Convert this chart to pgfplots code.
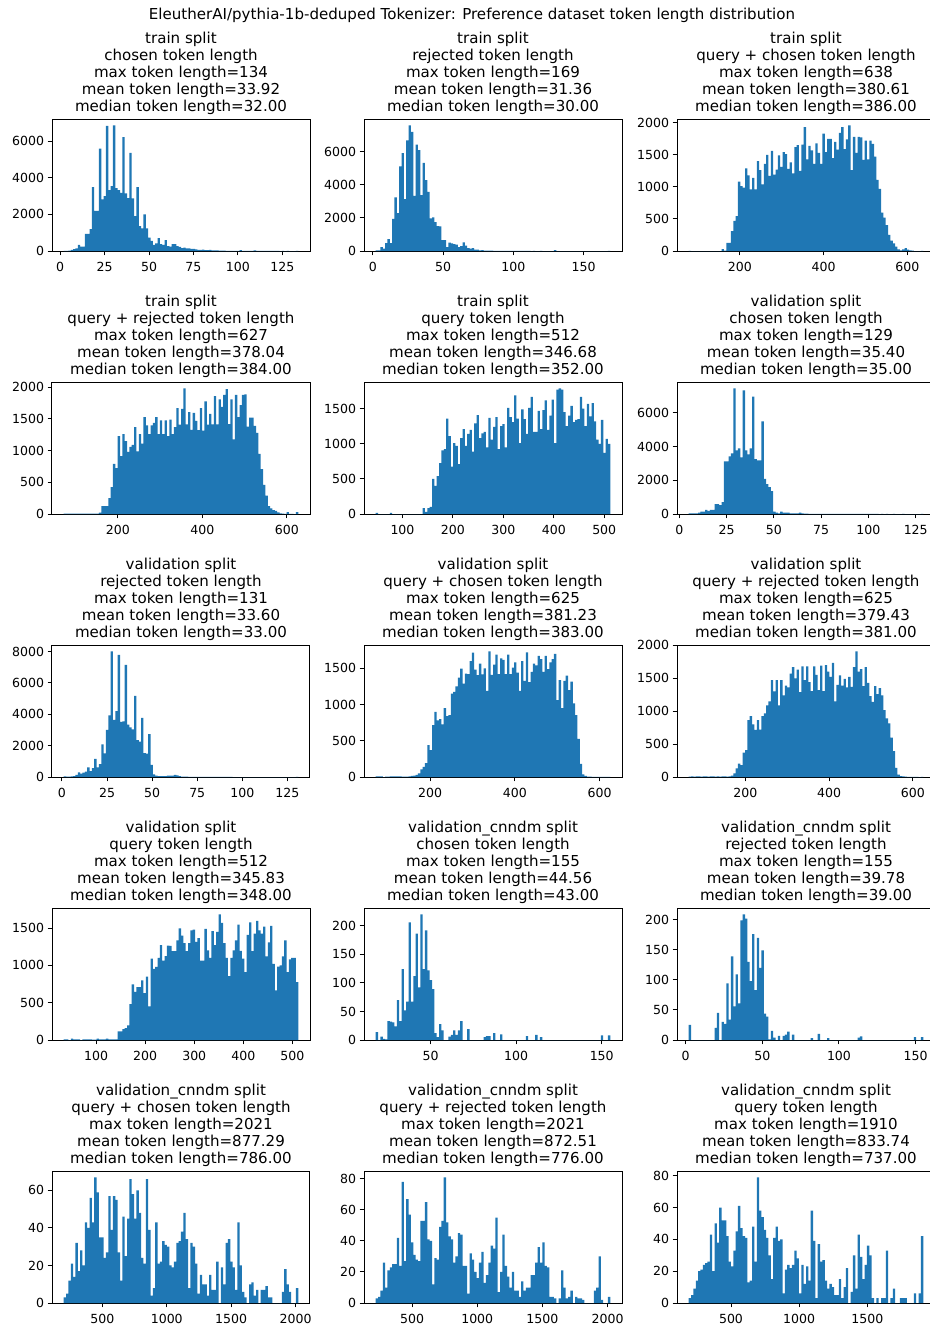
\documentclass[border=0pt]{standalone}
\usepackage{fontspec}
\setmainfont{DejaVu Sans}
\usepackage{pgfplots}
\usepackage{pgfplotstable}
\pgfplotsset{compat=1.18}
\definecolor{barblue}{HTML}{1F77B4}

% Histogram counts, 100 bins each (plus a closing row for the last bin edge)
\pgfplotstableread[row sep=\\]{n\\
5\\10\\20\\60\\100\\150\\330\\240\\240\\930\\
930\\1200\\3490\\2200\\2200\\5600\\2820\\3000\\6840\\3330\\
3550\\6870\\3440\\3330\\3180\\6220\\3150\\2890\\5360\\2870\\
1910\\3490\\1360\\1240\\2000\\1240\\730\\550\\330\\420\\
710\\380\\330\\600\\270\\240\\380\\380\\270\\220\\
160\\180\\150\\150\\110\\110\\90\\60\\60\\70\\
50\\50\\60\\40\\30\\30\\25\\20\\15\\10\\
12\\10\\8\\10\\6\\50\\5\\4\\5\\3\\
4\\40\\3\\2\\3\\2\\2\\1\\2\\1\\
1\\1\\0\\1\\0\\1\\0\\0\\0\\1\\0\\}\trainChosen

\pgfplotstableread[row sep=\\]{n\\
40\\40\\240\\140\\480\\720\\480\\1950\\3240\\2300\\
5130\\5920\\3140\\6700\\7610\\7210\\3340\\6440\\6100\\3380\\
5340\\4290\\3580\\1970\\2030\\1750\\1510\\1490\\660\\660\\
240\\500\\460\\420\\380\\240\\300\\520\\320\\180\\
140\\180\\80\\80\\40\\60\\20\\20\\20\\20\\
10\\8\\10\\6\\5\\4\\4\\3\\3\\2\\
2\\2\\1\\1\\1\\1\\0\\1\\0\\0\\
1\\0\\0\\0\\0\\0\\60\\0\\0\\0\\
0\\0\\0\\0\\0\\0\\0\\0\\0\\0\\
0\\0\\0\\0\\0\\0\\0\\0\\0\\1\\0\\}\trainRejected

\pgfplotstableread[row sep=\\]{n\\
2\\0\\0\\0\\0\\0\\0\\0\\0\\0\\
0\\0\\0\\0\\30\\5\\125\\125\\310\\470\\
545\\1080\\1010\\990\\1290\\1180\\960\\1140\\960\\1400\\
1260\\1040\\1360\\1500\\1170\\1560\\1190\\1270\\1490\\1310\\
1540\\1510\\1280\\1380\\1210\\1620\\1650\\1250\\1660\\1930\\
1430\\1640\\1570\\1360\\1680\\1530\\1360\\1830\\1540\\1750\\
1750\\1450\\1700\\1580\\1840\\1930\\1590\\1740\\1960\\1260\\
1780\\1530\\1780\\1770\\1420\\1720\\1430\\1720\\1670\\1470\\
1110\\970\\600\\520\\405\\250\\160\\120\\70\\25\\
10\\25\\45\\20\\10\\5\\0\\0\\0\\3\\0\\}\trainQC

\pgfplotstableread[row sep=\\]{n\\
5\\5\\5\\5\\5\\5\\5\\5\\5\\5\\
5\\5\\5\\5\\5\\20\\125\\125\\125\\250\\
425\\790\\725\\1230\\915\\1260\\1150\\980\\1060\\1090\\
1370\\990\\1260\\1110\\1530\\1400\\1260\\1400\\1440\\1530\\
1260\\1480\\1260\\1480\\1230\\1490\\1260\\1370\\1670\\1410\\
1660\\1985\\1415\\1610\\1330\\1595\\1470\\1325\\1670\\1315\\
1780\\1410\\1580\\1415\\1860\\1415\\1810\\1690\\1880\\1970\\
1420\\1810\\1180\\1880\\1530\\1720\\1880\\1890\\1380\\1520\\
1520\\1390\\1280\\950\\710\\460\\290\\125\\90\\60\\
50\\25\\10\\5\\3\\30\\2\\1\\0\\30\\0\\}\trainQR

\pgfplotstableread[row sep=\\]{n\\
15\\0\\0\\0\\0\\0\\15\\0\\0\\0\\
0\\0\\0\\0\\0\\0\\0\\0\\0\\0\\
85\\30\\85\\100\\500\\400\\540\\725\\905\\925\\
1360\\1110\\675\\1010\\970\\710\\1080\\1210\\970\\1140\\
1200\\890\\1290\\1410\\1080\\1150\\1170\\950\\1370\\1060\\
1240\\1380\\925\\1250\\1280\\950\\1510\\1380\\1310\\1690\\
1360\\1010\\1490\\1350\\1140\\1510\\1670\\1170\\1170\\1470\\
1210\\1480\\1620\\1200\\1400\\1630\\1010\\1770\\1790\\1770\\
1450\\1250\\1400\\1540\\1310\\1340\\1350\\1670\\1500\\1250\\
1570\\1390\\1580\\1320\\1060\\1000\\1340\\870\\1070\\1000\\0\\}\trainQuery

\pgfplotstableread[row sep=\\]{n\\
40\\40\\40\\40\\80\\140\\140\\240\\180\\240\\
240\\590\\590\\530\\710\\3130\\3130\\3420\\3600\\7460\\
3780\\3900\\3360\\7340\\3780\\3540\\3900\\6960\\3250\\3190\\
3190\\5490\\2090\\1770\\1590\\1360\\140\\80\\40\\140\\
80\\80\\80\\40\\40\\40\\40\\80\\40\\20\\
20\\15\\15\\10\\10\\10\\10\\10\\5\\5\\
5\\5\\3\\3\\3\\2\\2\\2\\2\\2\\
1\\1\\1\\1\\1\\1\\1\\1\\1\\1\\
1\\0\\1\\0\\1\\0\\0\\1\\0\\0\\
0\\1\\0\\0\\0\\0\\0\\0\\0\\1\\0\\}\valChosen

\pgfplotstableread[row sep=\\]{n\\
40\\20\\20\\40\\60\\130\\300\\210\\280\\340\\
620\\380\\570\\1150\\620\\830\\2090\\1510\\3000\\3940\\
8020\\3640\\4210\\7790\\3510\\3550\\7150\\3340\\3170\\3040\\
5170\\2360\\2260\\3770\\1530\\1490\\2740\\770\\170\\85\\
60\\60\\60\\60\\85\\85\\85\\130\\110\\60\\
20\\20\\20\\15\\15\\10\\10\\10\\5\\5\\
5\\5\\5\\3\\3\\3\\3\\2\\2\\2\\
2\\2\\1\\1\\1\\1\\1\\1\\1\\1\\
1\\1\\1\\1\\1\\1\\1\\1\\1\\1\\
1\\1\\1\\1\\1\\1\\1\\1\\1\\5\\0\\}\valRejected

\pgfplotstableread[row sep=\\]{n\\
10\\10\\10\\0\\5\\5\\10\\10\\10\\10\\
10\\5\\5\\5\\10\\15\\20\\30\\50\\105\\
140\\190\\440\\370\\715\\900\\780\\800\\725\\950\\
840\\855\\1150\\1175\\1250\\1370\\1495\\1290\\1425\\1420\\
1600\\1715\\1480\\1405\\1565\\1415\\1500\\1190\\1734\\1410\\
1550\\1690\\1420\\1635\\1615\\1420\\1690\\1420\\1510\\1580\\
1440\\1190\\1600\\1325\\1720\\1310\\1450\\1565\\1540\\1670\\
1625\\1450\\1670\\1490\\1580\\1625\\1700\\1060\\1335\\950\\
1325\\1400\\1200\\1315\\1015\\855\\525\\180\\35\\15\\
5\\5\\3\\3\\2\\2\\1\\2\\1\\3\\0\\}\valQC

\pgfplotstableread[row sep=\\]{n\\
5\\10\\5\\10\\10\\5\\10\\10\\5\\10\\
10\\5\\10\\5\\10\\10\\5\\10\\20\\55\\
130\\205\\180\\370\\410\\865\\925\\800\\715\\865\\
720\\925\\965\\1090\\1150\\1470\\1300\\1470\\1090\\1470\\
1240\\1390\\1360\\1570\\1670\\1500\\1630\\1290\\1680\\1470\\
1680\\1440\\1305\\1680\\1550\\1320\\1690\\1305\\1700\\1600\\
1520\\1735\\1150\\1400\\1545\\1390\\1490\\1360\\1520\\1370\\
1670\\1910\\1600\\1640\\1380\\1670\\1430\\1230\\1140\\1380\\
1260\\1350\\1240\\1015\\890\\815\\600\\395\\140\\35\\
15\\8\\5\\3\\2\\2\\1\\1\\0\\2\\0\\}\valQR

\pgfplotstableread[row sep=\\]{n\\
10\\10\\0\\20\\10\\10\\10\\0\\10\\10\\
10\\10\\5\\5\\20\\10\\10\\10\\20\\10\\
10\\10\\10\\115\\115\\145\\160\\195\\480\\745\\
645\\710\\710\\800\\630\\850\\450\\1090\\955\\980\\
1100\\1270\\1065\\1125\\1265\\1260\\1190\\1190\\1335\\1495\\
1400\\1300\\1190\\1300\\1470\\1480\\1315\\1365\\1065\\1065\\
1490\\1200\\1100\\1460\\1270\\1450\\1685\\1570\\1300\\1100\\
855\\1100\\1200\\1335\\1545\\1195\\1090\\910\\1410\\1575\\
1190\\1425\\1595\\1470\\1425\\1520\\1120\\1310\\1530\\1020\\
665\\985\\1000\\1120\\1335\\910\\1080\\1100\\1100\\775\\0\\}\valQuery

\pgfplotstableread[row sep=\\]{n\\
14\\0\\6\\2\\1\\33\\32\\31\\24\\70\\
33\\124\\52\\67\\206\\67\\112\\186\\92\\220\\
124\\192\\122\\105\\89\\12\\5\\28\\17\\0\\
0\\6\\9\\17\\9\\17\\33\\0\\0\\19\\
0\\0\\0\\0\\0\\0\\5\\7\\7\\0\\
12\\0\\0\\10\\0\\0\\0\\0\\0\\0\\
0\\0\\0\\0\\7\\0\\0\\0\\9\\0\\
5\\0\\0\\0\\0\\0\\0\\0\\0\\0\\
0\\0\\0\\0\\0\\0\\0\\0\\0\\0\\
0\\0\\0\\0\\0\\0\\8\\0\\0\\8\\0\\}\cnnChosen

\pgfplotstableread[row sep=\\]{n\\
25\\0\\0\\0\\0\\0\\0\\0\\0\\0\\
0\\20\\45\\0\\30\\27\\94\\34\\139\\56\\
109\\61\\199\\209\\202\\130\\98\\176\\83\\170\\
120\\149\\44\\39\\1\\15\\4\\0\\7\\0\\
7\\9\\14\\0\\9\\0\\0\\0\\0\\0\\
0\\0\\3\\0\\0\\10\\0\\0\\0\\3\\
0\\0\\0\\0\\0\\0\\0\\0\\0\\0\\
0\\0\\4\\6\\0\\0\\0\\0\\0\\0\\
0\\0\\0\\0\\0\\0\\0\\0\\0\\0\\
0\\0\\0\\0\\0\\0\\5\\0\\0\\5\\0\\}\cnnRejected

\pgfplotstableread[row sep=\\]{n\\
3\\5\\12\\21\\14\\32\\17\\28\\20\\43\\
40\\56\\43\\67\\59\\35\\35\\24\\27\\57\\
39\\57\\55\\27\\12\\46\\25\\45\\66\\58\\
45\\60\\48\\24\\21\\66\\39\\4\\8\\43\\
21\\22\\33\\31\\30\\20\\19\\22\\32\\33\\
38\\48\\34\\8\\32\\30\\21\\5\\15\\10\\
10\\4\\15\\7\\7\\22\\0\\19\\10\\32\\
34\\22\\19\\7\\43\\20\\6\\3\\0\\10\\
11\\4\\7\\0\\7\\7\\9\\3\\3\\0\\
0\\0\\0\\6\\18\\10\\6\\0\\0\\8\\0\\}\cnnQC

\pgfplotstableread[row sep=\\]{n\\
3\\4\\8\\26\\10\\21\\23\\25\\25\\42\\
24\\78\\27\\67\\57\\39\\31\\28\\27\\53\\
53\\65\\41\\40\\12\\29\\28\\49\\53\\81\\
52\\43\\41\\26\\30\\45\\44\\24\\24\\6\\
32\\28\\20\\16\\26\\33\\13\\18\\26\\37\\
35\\55\\7\\20\\44\\24\\17\\10\\20\\8\\
8\\4\\14\\8\\10\\10\\18\\18\\26\\36\\
26\\39\\24\\23\\4\\4\\3\\0\\3\\21\\
10\\3\\4\\8\\0\\4\\3\\3\\2\\0\\
0\\0\\0\\8\\10\\30\\2\\0\\0\\4\\0\\}\cnnQR

\pgfplotstableread[row sep=\\]{n\\
3\\5\\9\\14\\20\\21\\24\\25\\26\\43\\
20\\50\\38\\60\\52\\52\\42\\26\\23\\33\\
45\\61\\47\\42\\41\\13\\14\\48\\26\\79\\
58\\54\\46\\41\\30\\15\\41\\48\\39\\40\\
6\\21\\24\\22\\24\\33\\28\\6\\24\\12\\
23\\14\\58\\39\\3\\37\\26\\27\\14\\9\\
12\\10\\5\\5\\15\\3\\10\\22\\0\\7\\
30\\9\\43\\29\\15\\24\\36\\30\\3\\0\\
3\\0\\3\\3\\33\\0\\3\\9\\0\\0\\
3\\3\\3\\0\\0\\0\\6\\0\\6\\42\\0\\}\cnnQuery

\pgfplotsset{
  hist/.style={
    scale only axis, width=193.5pt, height=99pt,
    anchor=north west, ymin=0,
    axis line style={black, line width=0.75pt},
    tick align=outside, tick pos=left,
    major tick length=3.3pt,
    every tick/.style={black, line width=0.75pt},
    /pgf/number format/assume math mode=true,
    /pgf/number format/1000 sep={},
    scaled ticks=false,
    ticklabel style={font=\fontsize{9.4}{11}\selectfont},
    xticklabel style={anchor=north, inner sep=0pt},
    yticklabel style={anchor=east, inner sep=0pt},
    xticklabel shift=5.2pt, yticklabel shift=2.5pt,
    title style={at={(0.5,1)}, anchor=south, align=center, inner sep=0pt,
      yshift=-2.6pt, font=\fontsize{11.3}{12.75}\selectfont},
  },
  bins/.style={ybar interval, fill=barblue, draw=none},
}
% one histogram: table, lowest value, bin width
\newcommand{\hist}[3]{\addplot[bins] table[x expr={#2+\coordindex*#3}, y=n] {#1};}

\begin{document}
\begin{tikzpicture}
\node[anchor=base, font=\fontsize{11.3}{12.75}\selectfont] at (354pt,-14.25pt)
  {EleutherAI/pythia-1b-deduped Tokenizer: Preference dataset token length distribution};

% ---- row 1
\begin{axis}[hist, at={(39pt,-89.25pt)},
  xmin=-4.6, xmax=140.6, ymax=7214,
  xtick={0,25,50,75,100,125}, ytick={0,2000,4000,6000},
  title={train split\\chosen token length\\max token length=134\\mean token length=33.92\\median token length=32.00}]
\hist{\trainChosen}{2}{1.32}
\end{axis}
\begin{axis}[hist, at={(273pt,-89.25pt)},
  xmin=-6.35, xmax=177.35, ymax=7990,
  xtick={0,50,100,150}, ytick={0,2000,4000,6000},
  title={train split\\rejected token length\\max token length=169\\mean token length=31.36\\median token length=30.00}]
\hist{\trainRejected}{2}{1.67}
\end{axis}
\begin{axis}[hist, at={(507.75pt,-89.25pt)},
  xmin=50, xmax=666, ymax=2058,
  xtick={200,400,600}, ytick={0,500,1000,1500,2000},
  title={train split\\query + chosen token length\\max token length=638\\mean token length=380.61\\median token length=386.00}]
\hist{\trainQC}{78}{5.6}
\end{axis}

% ---- row 2
\begin{axis}[hist, at={(39pt,-286.5pt)},
  xmin=44.25, xmax=654.75, ymax=2084,
  xtick={200,400,600}, ytick={0,500,1000,1500,2000},
  title={train split\\query + rejected token length\\max token length=627\\mean token length=378.04\\median token length=384.00}]
\hist{\trainQR}{72}{5.55}
\end{axis}
\begin{axis}[hist, at={(273pt,-286.5pt)},
  xmin=23.75, xmax=535.25, ymax=1880,
  xtick={100,200,300,400,500}, ytick={0,500,1000,1500},
  title={train split\\query token length\\max token length=512\\mean token length=346.68\\median token length=352.00}]
\hist{\trainQuery}{47}{4.65}
\end{axis}
\begin{axis}[hist, at={(507.75pt,-286.5pt)},
  xmin=-1.2, xmax=135.2, ymax=7833,
  xtick={0,25,50,75,100,125}, ytick={0,2000,4000,6000},
  title={validation split\\chosen token length\\max token length=129\\mean token length=35.40\\median token length=35.00}]
\hist{\valChosen}{5}{1.24}
\end{axis}

% ---- row 3
\begin{axis}[hist, at={(39pt,-483.75pt)},
  xmin=-5.5, xmax=137.5, ymax=8421,
  xtick={0,25,50,75,100,125}, ytick={0,2000,4000,6000,8000},
  title={validation split\\rejected token length\\max token length=131\\mean token length=33.60\\median token length=33.00}]
\hist{\valRejected}{1}{1.3}
\end{axis}
\begin{axis}[hist, at={(273pt,-483.75pt)},
  xmin=44.35, xmax=652.65, ymax=1821,
  xtick={200,400,600}, ytick={0,500,1000,1500},
  title={validation split\\query + chosen token length\\max token length=625\\mean token length=381.23\\median token length=383.00}]
\hist{\valQC}{72}{5.53}
\end{axis}
\begin{axis}[hist, at={(507.75pt,-483.75pt)},
  xmin=37, xmax=653, ymax=2005,
  xtick={200,400,600}, ytick={0,500,1000,1500,2000},
  title={validation split\\query + rejected token length\\max token length=625\\mean token length=379.43\\median token length=381.00}]
\hist{\valQR}{65}{5.6}
\end{axis}

% ---- row 4
\begin{axis}[hist, at={(39pt,-681pt)},
  xmin=10.1, xmax=535.9, ymax=1769,
  xtick={100,200,300,400,500}, ytick={0,500,1000,1500},
  title={validation split\\query token length\\max token length=512\\mean token length=345.83\\median token length=348.00}]
\hist{\valQuery}{34}{4.78}
\end{axis}
\begin{axis}[hist, at={(273pt,-681pt)},
  xmin=11.15, xmax=161.85, ymax=231,
  xtick={50,100,150}, ytick={0,50,100,150,200},
  title={validation\_cnndm split\\chosen token length\\max token length=155\\mean token length=44.56\\median token length=43.00}]
\hist{\cnnChosen}{18}{1.37}
\end{axis}
\begin{axis}[hist, at={(507.75pt,-681pt)},
  xmin=-5.65, xmax=162.65, ymax=219.5,
  xtick={0,50,100,150}, ytick={0,50,100,150,200},
  title={validation\_cnndm split\\rejected token length\\max token length=155\\mean token length=39.78\\median token length=39.00}]
\hist{\cnnRejected}{2}{1.53}
\end{axis}

% ---- row 5
\begin{axis}[hist, at={(39pt,-878.25pt)},
  xmin=109, xmax=2112, ymax=70.35,
  xtick={500,1000,1500,2000}, ytick={0,20,40,60},
  title={validation\_cnndm split\\query + chosen token length\\max token length=2021\\mean token length=877.29\\median token length=786.00}]
\hist{\cnnQC}{200}{18.21}
\end{axis}
\begin{axis}[hist, at={(273pt,-878.25pt)},
  xmin=131, xmax=2111, ymax=85.05,
  xtick={500,1000,1500,2000}, ytick={0,20,40,60,80},
  title={validation\_cnndm split\\query + rejected token length\\max token length=2021\\mean token length=872.51\\median token length=776.00}]
\hist{\cnnQR}{221}{18}
\end{axis}
\begin{axis}[hist, at={(507.75pt,-878.25pt)},
  xmin=104, xmax=1996, ymax=82.95,
  xtick={500,1000,1500}, ytick={0,20,40,60,80},
  title={validation\_cnndm split\\query token length\\max token length=1910\\mean token length=833.74\\median token length=737.00}]
\hist{\cnnQuery}{190}{17.2}
\end{axis}

\pgfresetboundingbox
\path[use as bounding box] (0,0) rectangle (696.75pt,-993.75pt);
\end{tikzpicture}
\end{document}
